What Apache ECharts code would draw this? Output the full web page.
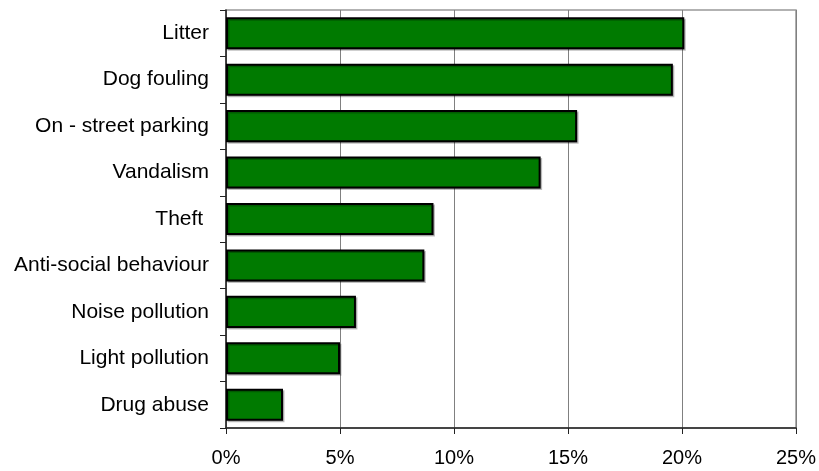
<!DOCTYPE html>
<html>
<head>
<meta charset="utf-8">
<script src="https://cdn.jsdelivr.net/npm/echarts@6/dist/echarts.min.js"></script>
<style>html,body{margin:0;padding:0;background:#fff}#c{width:819px;height:471px}</style>
</head>
<body>
<div id="c"></div>
<script>
const categories = ["Litter", "Dog fouling", "On - street parking", "Vandalism", "Theft ", "Anti-social behaviour", "Noise pollution", "Light pollution", "Drug abuse"];
const values = [20.1, 19.6, 15.4, 13.8, 9.1, 8.7, 5.7, 5.0, 2.5];
const xTicks = [0, 5, 10, 15, 20, 25];

const chart = echarts.init(document.getElementById('c'), null, {renderer: 'canvas'});
chart.setOption({
  animation: false,
  backgroundColor: '#ffffff',
  grid: {left: 226, right: 23, top: 10, bottom: 43, show: true, borderColor: '#999999', borderWidth: 1.5, backgroundColor: 'transparent'},
  xAxis: {
    type: 'value',
    min: xTicks[0], max: xTicks[xTicks.length - 1], interval: 5,
    axisLine: {show: true, lineStyle: {color: '#222', width: 1.5}},
    axisTick: {show: true, inside: false, length: 6, lineStyle: {color: '#222', width: 1}},
    splitLine: {show: true, lineStyle: {color: '#808080', width: 1}},
    axisLabel: {formatter: '{value}%', color: '#000', fontFamily: 'Liberation Sans, Arial, sans-serif', fontSize: 20, margin: 20}
  },
  yAxis: {
    type: 'category',
    data: categories,
    inverse: true,
    axisLine: {show: true, lineStyle: {color: '#222', width: 1.5}},
    axisTick: {show: true, inside: false, length: 6, lineStyle: {color: '#222', width: 1}},
    axisLabel: {color: '#000', fontFamily: 'Liberation Sans, Arial, sans-serif', fontSize: 21, margin: 17}
  },
  series: [{
    type: 'bar',
    data: values,
    barCategoryGap: '31%',
    itemStyle: {color: '#007a00', borderColor: '#000', borderWidth: 2,
      shadowColor: 'rgba(0,0,0,0.25)', shadowOffsetX: 1.5, shadowOffsetY: 1.5, shadowBlur: 0}
  }]
});
</script>
</body>
</html>
